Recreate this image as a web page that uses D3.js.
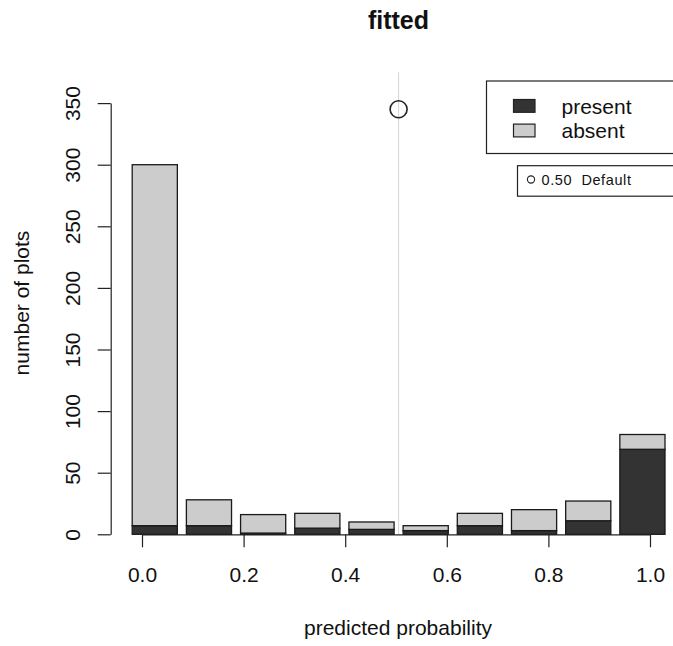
<!DOCTYPE html>
<html>
<head>
<meta charset="utf-8">
<script src="https://cdn.jsdelivr.net/npm/d3@7"></script>
<style>
  html, body { margin: 0; padding: 0; background: #fff; }
  svg { display: block; font-family: "Liberation Sans", Arial, sans-serif; }
</style>
</head>
<body>
<svg id="chart" width="673" height="646"></svg>
<script>
// Predicted-probability bins (width 0.1) with counts of plots by observed status
const bins = ["0.0-0.1", "0.1-0.2", "0.2-0.3", "0.3-0.4", "0.4-0.5",
              "0.5-0.6", "0.6-0.7", "0.7-0.8", "0.8-0.9", "0.9-1.0"];
const presentCounts = [7, 7, 1, 5, 4, 3, 7, 3, 11, 69];
const absentCounts  = [293, 21, 15, 12, 6, 4, 10, 17, 16, 12];
const seriesNames = ["present", "absent"];
const seriesColors = ["#333333", "#cccccc"];
const yTickValues = [0, 50, 100, 150, 200, 250, 300, 350];
const xTickValues = [0, 0.2, 0.4, 0.6, 0.8, 1.0];
const threshold = 0.5;
const thresholdLabel = "0.50  Default";
const thresholdMarkY = 345;

const svg = d3.select("#chart");

// Stacked rows: present on the bottom, absent on top
const rows = bins.map((b, i) => ({ bin: b, present: presentCounts[i], absent: absentCounts[i] }));
const stacked = d3.stack().keys(seriesNames)(rows);

const maxTotal = d3.max(rows, d => d.present + d.absent);
const yTop = 1.25 * maxTotal;

// Vertical scale: counts to pixels
const y = d3.scaleLinear().domain([0, yTop]).range([534.3, 534.3 - yTop * 1.232]);

// Bar layout in barplot units: width 1, spacing 0.2
const barLeft = i => 0.2 + i * 1.2;
const xBar = d3.scaleLinear().domain([0.2, 12.0]).range([132.2, 665]);
// Probability positions across the span of the bars (threshold marker)
const xProb = d3.scaleLinear().domain([0, 1]).range([xBar(0.2), xBar(12.0)]);
// Probability axis
const xAxisScale = d3.scaleLinear().domain([0, 1]).range([142, 650]);

// Threshold line
svg.append("line")
  .attr("x1", xProb(threshold)).attr("x2", xProb(threshold))
  .attr("y1", y(0)).attr("y2", y(yTop))
  .attr("stroke", "#d6d6d6").attr("stroke-width", 1);

// Bars
svg.append("g").selectAll("g")
  .data(stacked)
  .join("g")
  .attr("fill", (d, i) => seriesColors[i])
  .selectAll("rect")
  .data(d => d)
  .join("rect")
  .attr("x", (d, i) => xBar(barLeft(i)))
  .attr("width", (d, i) => xBar(barLeft(i) + 1) - xBar(barLeft(i)))
  .attr("y", d => y(d[1]))
  .attr("height", d => y(d[0]) - y(d[1]))
  .attr("stroke", "#1a1a1a")
  .attr("stroke-width", 1.3);

// Threshold marker
svg.append("circle")
  .attr("cx", xProb(threshold)).attr("cy", y(thresholdMarkY))
  .attr("r", 8.5)
  .attr("fill", "none").attr("stroke", "#222").attr("stroke-width", 1.6);

// Y axis
const yAxisScale = y.copy().domain([0, 350]).range([y(0), y(350)]);
const gy = svg.append("g")
  .attr("transform", "translate(110.7,0)")
  .call(d3.axisLeft(yAxisScale).tickValues(yTickValues).tickSize(13).tickSizeOuter(0).tickFormat(d3.format("d")));
gy.select(".domain").attr("stroke", "#222").attr("stroke-width", 1.2);
gy.selectAll(".tick line").attr("stroke", "#222").attr("stroke-width", 1.2);
gy.selectAll(".tick text")
  .attr("x", 0).attr("dy", null).attr("y", 0)
  .attr("transform", "translate(-31,0) rotate(-90)")
  .attr("text-anchor", "middle")
  .attr("font-size", 21).attr("fill", "#111")
  .attr("font-family", "Liberation Sans, Arial, sans-serif");

// X axis
const gx = svg.append("g")
  .attr("transform", `translate(0,${y(0)})`)
  .call(d3.axisBottom(xAxisScale).tickValues(xTickValues).tickSize(13).tickSizeOuter(0).tickFormat(d3.format(".1f")));
gx.select(".domain").attr("stroke", "#222").attr("stroke-width", 1.2);
gx.selectAll(".tick line").attr("stroke", "#222").attr("stroke-width", 1.2);
gx.selectAll(".tick text")
  .attr("dy", null).attr("y", 47.5)
  .attr("font-size", 21).attr("fill", "#111")
  .attr("font-family", "Liberation Sans, Arial, sans-serif");

// Titles
svg.append("text")
  .attr("x", 398.5).attr("y", 28.5)
  .attr("text-anchor", "middle")
  .attr("font-size", 25).attr("font-weight", "bold").attr("fill", "#111")
  .text("fitted");

svg.append("text")
  .attr("x", 398).attr("y", 635)
  .attr("text-anchor", "middle")
  .attr("font-size", 21).attr("fill", "#111")
  .text("predicted probability");

svg.append("text")
  .attr("transform", "translate(29,303) rotate(-90)")
  .attr("text-anchor", "middle")
  .attr("font-size", 21).attr("fill", "#111")
  .text("number of plots");

// Series legend
const legend = svg.append("g");
legend.append("rect")
  .attr("x", 486.5).attr("y", 81).attr("width", 220).attr("height", 72.5)
  .attr("fill", "#fff").attr("stroke", "#222").attr("stroke-width", 1.2);
seriesNames.forEach((name, i) => {
  legend.append("rect")
    .attr("x", 513.5).attr("y", 99.5 + i * 24.6).attr("width", 21.5).attr("height", 12.8)
    .attr("fill", seriesColors[i]).attr("stroke", "#222").attr("stroke-width", 1.2);
  legend.append("text")
    .attr("x", 561.5).attr("y", 114 + i * 24)
    .attr("font-size", 21).attr("fill", "#111")
    .text(name);
});

// Threshold legend
const tl = svg.append("g");
tl.append("rect")
  .attr("x", 517.5).attr("y", 165.7).attr("width", 200).attr("height", 30.5)
  .attr("fill", "#fff").attr("stroke", "#222").attr("stroke-width", 1.2);
tl.append("circle")
  .attr("cx", 531).attr("cy", 179.5).attr("r", 3.6)
  .attr("fill", "#fff").attr("stroke", "#222").attr("stroke-width", 1.1);
tl.append("text")
  .attr("x", 541.5).attr("y", 184.5)
  .attr("font-size", 14.5).attr("fill", "#111")
  .attr("letter-spacing", 0.6)
  .attr("xml:space", "preserve")
  .style("white-space", "pre")
  .text(thresholdLabel);
</script>
</body>
</html>
